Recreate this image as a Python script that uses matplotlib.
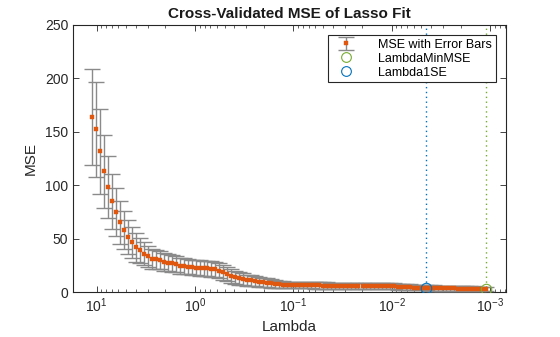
import matplotlib
matplotlib.use("Agg")
import matplotlib.pyplot as plt
from matplotlib.lines import Line2D

plt.rcParams['font.family'] = ['Liberation Sans', 'DejaVu Sans']

lambdas = [11.09, 10.11, 9.21, 8.39, 7.65, 6.97, 6.35, 5.78, 5.27, 4.80,
           4.38, 3.99, 3.63, 3.31, 3.015, 2.75, 2.503, 2.281, 2.078, 1.894,
           1.725, 1.572, 1.432, 1.305, 1.189, 1.084, 0.987, 0.900, 0.820, 0.747,
           0.681, 0.620, 0.565, 0.515, 0.469, 0.4275, 0.3895, 0.355, 0.3234, 0.2946,
           0.2685, 0.2446, 0.2229, 0.2031, 0.1850, 0.1686, 0.1536, 0.1400, 0.1275, 0.1162,
           0.1059, 0.0965, 0.0879, 0.0801, 0.0730, 0.0665, 0.0606, 0.0552, 0.0503, 0.0458,
           0.0418, 0.0381, 0.0347, 0.0316, 0.0288, 0.0262, 0.0239, 0.0218, 0.0198, 0.0181,
           0.0165, 0.0150, 0.0137, 0.01246, 0.01135, 0.01034, 0.00942, 0.00859, 0.00782, 0.00713,
           0.00650, 0.00592, 0.00539, 0.00491, 0.00448, 0.00408, 0.00372, 0.00339, 0.00309, 0.00281,
           0.00256, 0.00233, 0.00213, 0.00194, 0.00177, 0.00161, 0.00147, 0.00134, 0.00122, 0.00111]

mse = [163.6, 152.3, 131.7, 113.0, 98.0, 84.9, 74.6, 65.2, 57.8, 51.2,
       46.4, 41.8, 39.0, 36.0, 33.4, 31.3, 30.6, 29.7, 28.0, 27.2,
       26.9, 25.9, 24.8, 24.1, 23.8, 23.0, 22.8, 22.3, 22.2, 22.1,
       21.5, 21.1, 19.7, 18.4, 16.6, 14.9, 13.7, 12.8, 11.9, 11.0,
       10.8, 10.3, 9.6, 9.1, 8.7, 8.1, 7.5, 7.2, 6.8, 6.6,
       6.5, 6.5, 6.4, 6.4, 6.3, 6.3, 6.2, 6.1, 6.0, 5.9,
       5.8, 5.7, 5.6, 5.5, 5.4, 5.4, 5.4, 5.4, 5.3, 5.3,
       5.3, 5.3, 5.3, 5.3, 5.2, 5.2, 5.2, 5.1, 5.0, 4.6,
       4.4, 4.2, 4.1, 4.0, 4.0, 3.8, 3.7, 3.6, 3.5, 3.4,
       3.4, 3.3, 3.2, 3.2, 3.1, 3.0, 3.0, 2.9, 2.9, 2.8]

se = [45.0, 44.5, 39.5, 34.0, 29.0, 25.7, 22.4, 19.8, 17.6, 16.0,
      14.4, 13.5, 11.5, 10.9, 9.6, 9.3, 8.8, 8.5, 8.2, 8.0,
      7.8, 7.6, 7.5, 7.4, 7.4, 7.3, 7.3, 7.3, 7.2, 7.2,
      7.1, 7.1, 7.0, 6.8, 6.5, 6.3, 6.0, 5.8, 5.5, 5.3,
      5.1, 4.9, 4.6, 4.3, 4.1, 3.9, 3.6, 3.4, 3.2, 3.0,
      3.0, 3.0, 3.0, 3.0, 3.0, 3.0, 3.0, 3.0, 3.0, 3.0,
      3.0, 3.0, 3.0, 2.8, 2.8, 2.8, 2.8, 2.8, 2.8, 2.8,
      2.8, 2.8, 2.8, 2.8, 2.8, 2.8, 2.8, 2.8, 2.8, 2.8,
      2.8, 2.4, 2.4, 2.4, 2.4, 2.4, 2.4, 2.4, 2.3, 2.3,
      2.3, 2.3, 2.3, 2.2, 2.2, 2.2, 2.2, 2.2, 2.2, 2.2]

idx_min = 99
idx_1se = 84

c_err = '#8a8a8a'
c_pt = '#E0580F'
c_green = '#77AC30'
c_blue = '#0072BD'

fig = plt.figure(figsize=(5.6, 3.37), dpi=100)
ax = fig.add_axes([73/560, 45/337, 433/560, 267/337])

eb = ax.errorbar(lambdas, mse, yerr=se, fmt='none',
                 ecolor=c_err, elinewidth=1.0, capsize=5.5, capthick=1.0, zorder=3)
pts, = ax.plot(lambdas, mse, ls='none', marker='s', ms=2.5, mfc=c_pt, mec=c_pt, mew=0.3, zorder=3.5)
ax.axvline(lambdas[idx_min], color=c_green, ls=(0, (1, 2.5)), lw=1.0, zorder=2)
ax.axvline(lambdas[idx_1se], color=c_blue, ls=(0, (1, 2.5)), lw=1.0, zorder=2)
ax.plot([lambdas[idx_min]], [mse[idx_min]], 'o', mfc='none', mec=c_green, ms=7.5, mew=0.8, zorder=4)
ax.plot([lambdas[idx_1se]], [mse[idx_1se]], 'o', mfc='none', mec=c_blue, ms=7.5, mew=0.8, zorder=4)

ax.set_xscale('log')
ax.set_xlim(17.4, 6.9e-4)
ax.set_ylim(0, 250)
ax.set_yticks([0, 50, 100, 150, 200, 250])
ax.tick_params(which='both', direction='in', top=True, right=True, labelsize=10, colors='#262626')
ax.tick_params(which='major', length=4, width=0.6)
ax.tick_params(which='minor', length=2.2, width=0.5)
for s in ax.spines.values():
    s.set_linewidth(0.8)
    s.set_color('#262626')

ax.set_xlabel('Lambda', fontsize=11, color='#262626', labelpad=3)
ax.set_ylabel('MSE', fontsize=11, color='#262626', labelpad=5)
ax.set_title('Cross-Validated MSE of Lasso Fit', fontsize=11, fontweight='bold', color='#1a1a1a', pad=5)

handles = [(eb, pts),
           Line2D([], [], ls='none', marker='o', mfc='none', mec=c_green, ms=7, mew=0.8),
           Line2D([], [], ls='none', marker='o', mfc='none', mec=c_blue, ms=7, mew=0.8)]
labels = ['MSE with Error Bars', 'LambdaMinMSE', 'Lambda1SE']
leg = ax.legend(handles, labels, loc='upper right', fontsize=9, frameon=True, fancybox=False,
                edgecolor='#262626', framealpha=1, borderaxespad=0.8, handlelength=2.2,
                labelspacing=0.15, borderpad=0.3, handletextpad=1.5)
leg.get_frame().set_linewidth(0.8)
leg.set_zorder(10)

fig.savefig('out.png', dpi=100)
